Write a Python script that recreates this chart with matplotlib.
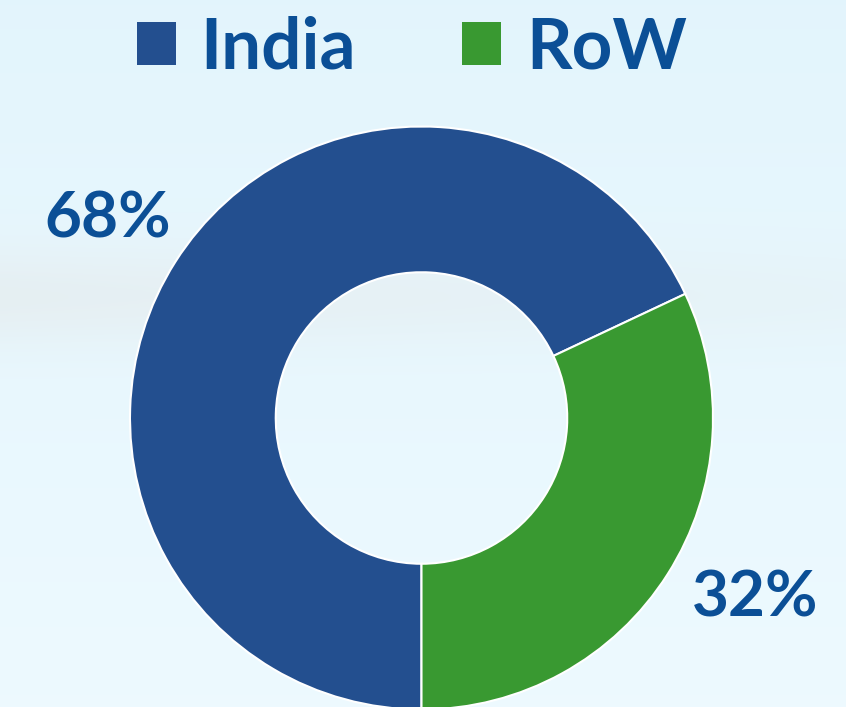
"""Donut chart: India vs RoW share."""

import matplotlib.pyplot as plt
import numpy as np
from matplotlib.patches import Patch

labels = ["India", "RoW"]
shares = [68, 32]
colors = ["#234f8f", "#399931"]
text_color = "#0b4f96"

W, H = 846, 707
fig = plt.figure(figsize=(W / 100, H / 100), dpi=100)

# background: pale blue gradient with a soft grey band
bg = fig.add_axes([0, 0, 1, 1])
yy = np.linspace(0, 1, 300)[:, None]
xx = np.linspace(0, 1, 300)[None, :]
top = np.array([0.89, 0.96, 0.99])
bot = np.array([0.93, 0.98, 1.0])
img = top + (bot - top) * yy[..., None]
band = np.exp(-((yy - 0.42) / 0.07) ** 2) * (1 - 0.6 * xx)
grey = np.array([0.90, 0.93, 0.94])
img = img * (1 - band[..., None] * 0.8) + grey * band[..., None] * 0.8
img = np.broadcast_to(img, (300, 300, 3))
bg.imshow(img, aspect="auto", extent=[0, 1, 1, 0])
bg.axis("off")

cx, cy, r = 421.5, 418, 291.5
ax = fig.add_axes([(cx - r) / W, (H - cy - r) / H, 2 * r / W, 2 * r / H])
ax.set_facecolor("none")
wedges, _ = ax.pie(
    shares,
    colors=colors,
    startangle=270,
    counterclock=False,
    radius=1,
    wedgeprops=dict(width=0.5, edgecolor="white", linewidth=1.5),
)

# percentage labels outside each wedge, near its mid-angle
label_dist = [1.275, 1.30]
label_shift = [0.0, 4.0]  # degrees
for w, share, dist, shift in zip(wedges, shares, label_dist, label_shift):
    mid = np.deg2rad((w.theta1 + w.theta2) / 2 + shift)
    ax.text(
        dist * np.cos(mid),
        dist * np.sin(mid),
        f"{share}%",
        ha="center",
        va="center",
        color=text_color,
        fontsize=46,
        fontweight="bold",
        family="Lato",
        clip_on=False,
    )

ax.set_xlim(-1, 1)
ax.set_ylim(-1, 1)
ax.set_aspect("equal")
ax.axis("off")

handles = [Patch(facecolor=c, edgecolor="none") for c in colors]
leg = fig.legend(
    handles,
    labels,
    loc="upper center",
    bbox_to_anchor=(0.487, 1.068),
    ncol=2,
    frameon=False,
    prop=dict(family="Lato", weight="bold", size=51),
    handlelength=0.55,
    handleheight=0.55,
    handletextpad=0.35,
    columnspacing=1.5,
)
for t in leg.get_texts():
    t.set_color(text_color)

fig.savefig("out.png", dpi=100)
